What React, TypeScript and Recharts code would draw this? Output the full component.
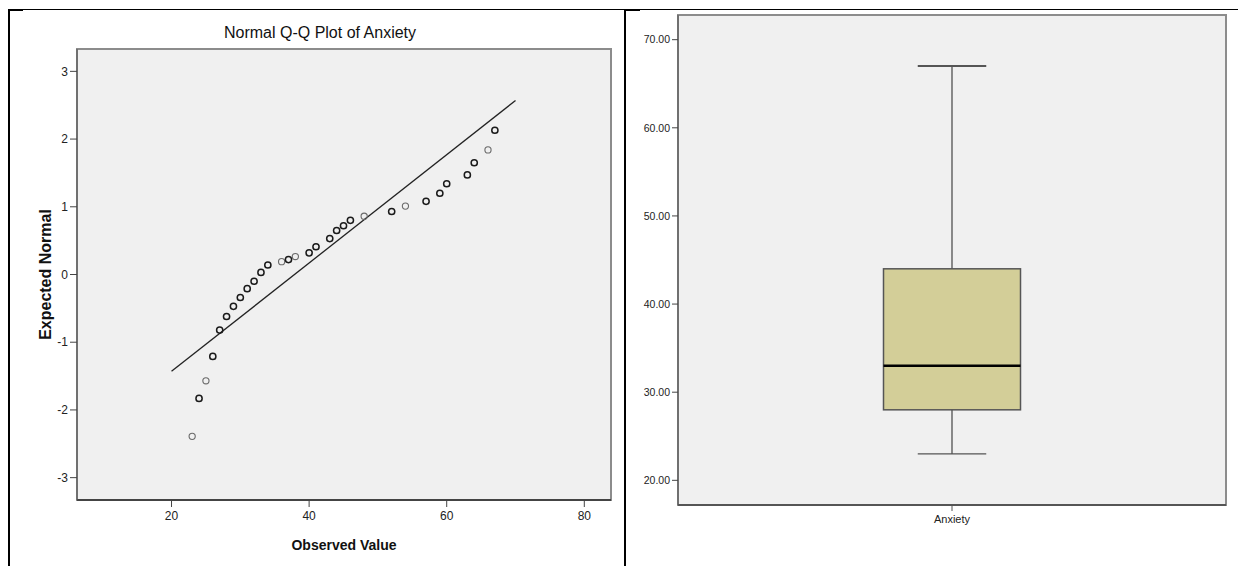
import React from 'react';
import {
  ScatterChart, Scatter, ComposedChart, Bar, XAxis, YAxis, CartesianGrid, ReferenceArea,
} from 'recharts';

// Q-Q plot data
const qqObserved = [23, 24, 25, 26, 27, 28, 29, 30, 31, 32, 33, 34, 36, 37, 38, 40, 41, 43, 44, 45, 46, 48, 52, 54, 57, 59, 60, 63, 64, 66, 67];
const qqExpected = [-2.39, -1.83, -1.57, -1.21, -0.82, -0.62, -0.47, -0.34, -0.21, -0.1, 0.03, 0.14, 0.19, 0.22, 0.265, 0.32, 0.41, 0.53, 0.65, 0.72, 0.8, 0.86, 0.93, 1.01, 1.08, 1.2, 1.34, 1.47, 1.65, 1.84, 2.13];
// values that appear as single (lighter) circles; others overlap and look darker
const qqSingles = [23, 25, 36, 38, 48, 54, 66];
const fitLineX = [20, 70];
const fitLineY = [-1.43, 2.57];
const qqXTicks = [20, 40, 60, 80];
const qqYTicks = [-3, -2, -1, 0, 1, 2, 3];
const qqXDomain = [6.26, 83.88];
const qqYDomain = [-3.33, 3.33];

// Box plot data
const boxCategories = ['Anxiety'];
const boxMin = [23];
const boxQ1 = [28];
const boxMedian = [33];
const boxQ3 = [44];
const boxMax = [67];
const boxYTicks = [20, 30, 40, 50, 60, 70];
const boxYDomain = [17.2, 72.8];

const FONT = '"Liberation Sans", Arial, sans-serif';

const qqPoints = qqObserved.map((x, i) => ({ x, y: qqExpected[i] }));
const darkPts = qqPoints.filter((p) => !qqSingles.includes(p.x));
const grayPts = qqPoints.filter((p) => qqSingles.includes(p.x));
const fitLine = fitLineX.map((x, i) => ({ x, y: fitLineY[i] }));

const boxData = boxCategories.map((name, i) => ({
  name,
  min: boxMin[i],
  q1: boxQ1[i],
  median: boxMedian[i],
  q3: boxQ3[i],
  max: boxMax[i],
}));

const ring = (color: string, w: number) => (props: any) => (
  <circle cx={props.cx} cy={props.cy} r={3.1} fill="none" stroke={color} strokeWidth={w} />
);

const BoxShape = (props: any) => {
  const { x, y, width, height, payload } = props;
  const top = Math.min(y, y + height);
  const bottom = Math.max(y, y + height);
  const { min, max, q1, q3, median } = payload;
  const py = (v: number) => top + ((bottom - top) * (max - v)) / (max - min);
  const cx = x + width / 2;
  const capHalf = width / 4;
  return (
    <g>
      <line x1={cx} x2={cx} y1={py(max)} y2={py(min)} stroke="#444" strokeWidth={1.2} />
      <line x1={cx - capHalf} x2={cx + capHalf} y1={py(max)} y2={py(max)} stroke="#555" strokeWidth={2} />
      <line x1={cx - capHalf} x2={cx + capHalf} y1={py(min)} y2={py(min)} stroke="#555" strokeWidth={1.2} />
      <rect x={x} y={py(q3)} width={width} height={py(q1) - py(q3)} fill="#d3ce98" stroke="#555" strokeWidth={1.5} />
      <line x1={x} x2={x + width} y1={py(median)} y2={py(median)} stroke="#000" strokeWidth={2.5} />
    </g>
  );
};

export default function App() {
  return (
    <div style={{ position: 'relative', width: 1238, height: 566, background: '#fff', overflow: 'hidden' }}>
      <style>{'body{margin:0}'}</style>
      {/* table borders */}
      <div style={{ position: 'absolute', left: 8, top: 9, width: 1230, height: 1, background: '#000' }} />
      <div style={{ position: 'absolute', left: 8, top: 9, width: 15, height: 2, background: '#000' }} />
      <div style={{ position: 'absolute', left: 624, top: 9, width: 16, height: 2, background: '#000' }} />
      <div style={{ position: 'absolute', left: 8, top: 9, width: 2, height: 557, background: '#000' }} />
      <div style={{ position: 'absolute', left: 624, top: 9, width: 2, height: 557, background: '#000' }} />

      {/* Left: Normal Q-Q plot */}
      <div style={{ position: 'absolute', left: 0, top: 0, width: 624, height: 566 }}>
        <div style={{ position: 'absolute', left: 120, width: 400, top: 24, textAlign: 'center', fontFamily: FONT, fontSize: 16, color: '#111' }}>
          Normal Q-Q Plot of Anxiety
        </div>
        <ScatterChart width={624} height={566} margin={{ top: 49, right: 13, bottom: 0, left: 0 }}>
          <CartesianGrid horizontal={false} vertical={false} fill="#f0f0f0" />
          <ReferenceArea x1={qqXDomain[0]} x2={qqXDomain[1]} y1={qqYDomain[0]} y2={qqYDomain[1]} fill="none" stroke="#8c8c8c" strokeWidth={2} ifOverflow="visible" />
          <XAxis
            type="number" dataKey="x" domain={qqXDomain} ticks={qqXTicks} height={66}
            tickSize={7} tickMargin={4} axisLine={{ stroke: '#444', strokeWidth: 2 }} tickLine={{ stroke: '#444' }}
            tick={{ fontSize: 12, fill: '#222', fontFamily: FONT }}
            label={{ value: 'Observed Value', position: 'insideBottom', offset: 16, style: { fontSize: 14, fontWeight: 'bold', fill: '#111', fontFamily: FONT } }}
          />
          <YAxis
            type="number" dataKey="y" domain={qqYDomain} ticks={qqYTicks} width={77}
            tickSize={7} tickMargin={2} axisLine={{ stroke: '#555' }} tickLine={{ stroke: '#444' }}
            tick={{ fontSize: 12, fill: '#222', fontFamily: FONT }}
            label={{ value: 'Expected Normal', angle: -90, position: 'insideLeft', offset: 45, style: { textAnchor: 'middle', fontSize: 16, fontWeight: 'bold', fill: '#111', fontFamily: FONT } }}
          />
          <Scatter data={fitLine} line={{ stroke: '#222', strokeWidth: 1.3 }} shape={() => <g />} isAnimationActive={false} />
          <Scatter data={grayPts} shape={ring('#6a6a6a', 1.1)} isAnimationActive={false} />
          <Scatter data={darkPts} shape={ring('#1a1a1a', 1.5)} isAnimationActive={false} />
        </ScatterChart>
      </div>

      {/* Right: box plot */}
      <div style={{ position: 'absolute', left: 624, top: 0, width: 614, height: 566 }}>
        <ComposedChart width={614} height={566} data={boxData} margin={{ top: 15, right: 12, bottom: 0, left: 0 }} barCategoryGap="37.5%">
          <CartesianGrid horizontal={false} vertical={false} fill="#f0f0f0" />
          <ReferenceArea y1={boxYDomain[0]} y2={boxYDomain[1]} fill="none" stroke="#8c8c8c" strokeWidth={2} ifOverflow="visible" />
          <XAxis
            dataKey="name" height={61} tickSize={6} tickMargin={4}
            axisLine={{ stroke: '#555', strokeWidth: 2 }} tickLine={{ stroke: '#555' }}
            tick={{ fontSize: 11, fill: '#222', fontFamily: FONT }}
          />
          <YAxis
            type="number" domain={boxYDomain} ticks={boxYTicks} width={54}
            tickSize={6} tickMargin={2} axisLine={{ stroke: '#555' }} tickLine={{ stroke: '#444' }}
            tickFormatter={(v: number) => v.toFixed(2)}
            tick={{ fontSize: 10.5, fill: '#222', fontFamily: FONT }}
          />
          <Bar dataKey={(d: any) => [d.min, d.max]} shape={<BoxShape />} isAnimationActive={false} />
        </ComposedChart>
      </div>
    </div>
  );
}
